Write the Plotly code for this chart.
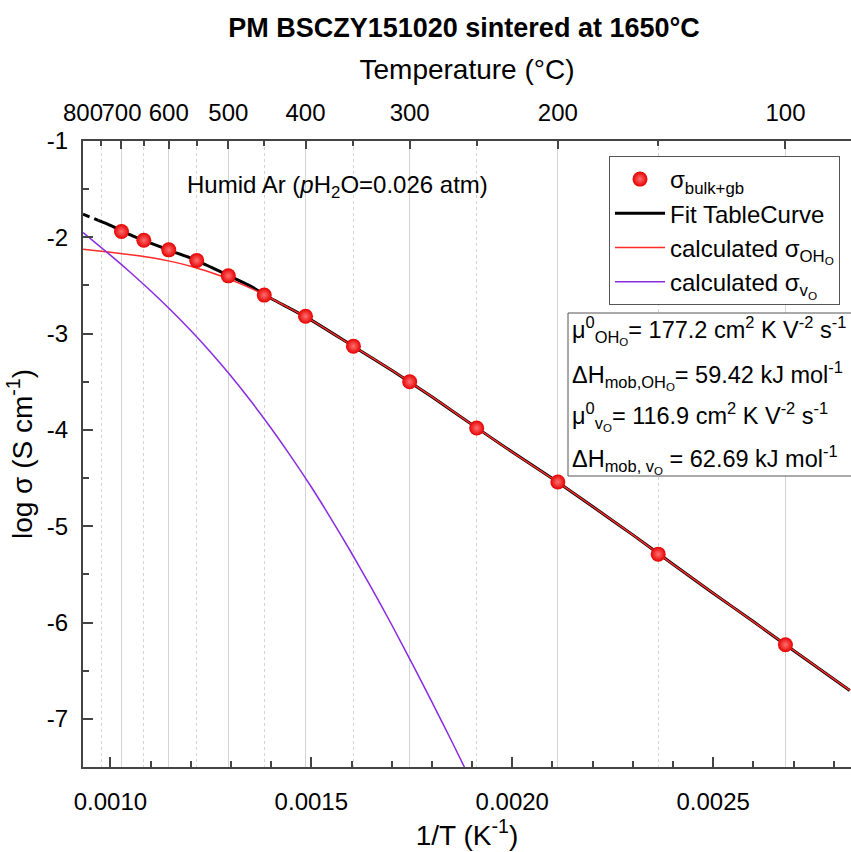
import plotly.graph_objects as go

# Measured total conductivity (bulk + grain boundary) vs. temperature
temps_C = [700, 650, 600, 550, 500, 450, 400, 350, 300, 250, 200, 150, 100]
log_sigma = [-1.94, -2.03, -2.13, -2.24, -2.40, -2.60, -2.82, -3.13, -3.50, -3.98, -4.54, -5.29, -6.23]

# TableCurve fit (dashed part = extrapolation beyond the measured range)
fit_extrap_x = [0.000932, 0.00097]
fit_extrap_y = [-1.76, -1.824]
fit_x = [0.00097, 0.00100, 0.00105, 0.00110, 0.00115, 0.00120, 0.00125, 0.00130, 0.00135,
         0.00140, 0.00145, 0.00150, 0.00160, 0.00170, 0.00180, 0.00190, 0.00200, 0.00210,
         0.00220, 0.00230, 0.00240, 0.00250, 0.00260, 0.00270, 0.00284]
fit_y = [-1.824, -1.875, -1.975, -2.06, -2.14, -2.215, -2.31, -2.41, -2.51,
         -2.635, -2.745, -2.86, -3.12, -3.38, -3.655, -3.945, -4.23, -4.505,
         -4.795, -5.09, -5.395, -5.695, -5.99, -6.29, -6.705]

# Calculated protonic (OH_O) conductivity
oh_x = [0.000932, 0.00100, 0.00105, 0.00110, 0.00115, 0.00120, 0.00125, 0.00130, 0.00135,
        0.00140, 0.00145, 0.00150, 0.00160, 0.00170, 0.00180, 0.00190, 0.00200, 0.00210,
        0.00220, 0.00230, 0.00240, 0.00250, 0.00260, 0.00270, 0.00284]
oh_y = [-2.125, -2.155, -2.18, -2.21, -2.25, -2.30, -2.365, -2.44, -2.53,
        -2.635, -2.745, -2.86, -3.12, -3.38, -3.655, -3.945, -4.23, -4.505,
        -4.795, -5.09, -5.395, -5.695, -5.99, -6.29, -6.705]

# Calculated oxygen-vacancy conductivity
vo_x = [0.000932, 0.00100, 0.00105, 0.00110, 0.00115, 0.00120, 0.00125, 0.00130, 0.00135,
        0.00140, 0.00145, 0.00150, 0.00155, 0.00160, 0.00165, 0.00170, 0.00175, 0.00180,
        0.00185, 0.00190]
vo_y = [-1.95, -2.185, -2.365, -2.555, -2.755, -2.968, -3.195, -3.44, -3.703,
        -3.983, -4.28, -4.593, -4.928, -5.278, -5.643, -6.023, -6.418, -6.823,
        -7.238, -7.663]

# Axis ticks
temp_major = [800, 700, 600, 500, 400, 300, 200, 100]
temp_minor = [750, 650, 550, 450, 350, 250, 150]
inv_ticks = [0.0010, 0.0015, 0.0020, 0.0025]
inv_ticktext = ["0.0010", "0.0015", "0.0020", "0.0025"]
y_ticks = [-1, -2, -3, -4, -5, -6, -7]
y_ticktext = ["-1", "-2", "-3", "-4", "-5", "-6", "-7"]

x_min = 1 / (800 + 273.15)
x_max = 0.002843
y_range = [-7.5, -1]

FONT = "Liberation Sans, Arial, sans-serif"
AXC = "#444444"

inv_T = [1 / (t + 273.15) for t in temps_C]

fig = go.Figure()

fig.add_trace(go.Scatter(
    x=fit_extrap_x, y=fit_extrap_y, mode="lines",
    line=dict(color="black", width=3, dash="7px,5px"),
    showlegend=False, hoverinfo="skip"))
fig.add_trace(go.Scatter(
    x=fit_x, y=fit_y, mode="lines", name="Fit TableCurve",
    line=dict(color="black", width=3, shape="spline", smoothing=0.6),
    legendrank=2))
fig.add_trace(go.Scatter(
    x=oh_x, y=oh_y, mode="lines",
    name="calculated σ<sub>OH<sub>O</sub></sub>",
    line=dict(color="#ff2a2a", width=1.5, shape="spline", smoothing=0.6),
    legendrank=3))
fig.add_trace(go.Scatter(
    x=vo_x, y=vo_y, mode="lines",
    name="calculated σ<sub>v<sub>O</sub></sub>",
    line=dict(color="#8a2be2", width=1.5, shape="spline", smoothing=0.6),
    legendrank=4))
fig.add_trace(go.Scatter(
    x=inv_T, y=log_sigma, mode="markers",
    name="σ<sub>bulk+gb</sub>",
    marker=dict(size=15, color="#e60000",
                gradient=dict(type="radial", color="#ff7070"),
                line=dict(width=0)),
    legendrank=1))
# Same points bound to the temperature axis (keeps the top axis alive)
fig.add_trace(go.Scatter(
    x=inv_T, y=log_sigma, mode="markers", xaxis="x2",
    marker=dict(size=1, opacity=0), showlegend=False, hoverinfo="skip"))

fig.update_layout(
    width=851, height=852,
    margin=dict(l=83, r=0, t=141, b=85),
    paper_bgcolor="white", plot_bgcolor="white",
    font=dict(family=FONT, color="black", size=24),
    title=dict(text="<b>PM BSCZY151020 sintered at 1650°C</b>",
               x=464 / 851, xref="container", xanchor="center",
               y=1 - 28 / 852, yref="container", yanchor="middle",
               font=dict(size=27, family=FONT, color="black")),
    showlegend=True,
    legend=dict(x=(609 - 83) / 768, y=(767 - 156) / 626,
                xanchor="left", yanchor="top",
                bordercolor="#555555", borderwidth=1, bgcolor="white",
                font=dict(size=24, family=FONT), itemwidth=50,
                tracegroupgap=0),
    xaxis=dict(
        range=[x_min, x_max], showgrid=False, zeroline=False,
        showline=True, linecolor=AXC, linewidth=2,
        tickmode="array", tickvals=inv_ticks, ticktext=inv_ticktext,
        ticks="inside", ticklen=10, tickwidth=1.5, tickcolor=AXC,
        tickfont=dict(size=24), ticklabelstandoff=12, tickangle=0,
        minor=dict(dtick=0.0001, tick0=0, ticks="inside", ticklen=6,
                   tickwidth=1.5, tickcolor=AXC, showgrid=False),
        title=dict(text="1/T (K<sup>-1</sup>)", font=dict(size=28), standoff=4),
    ),
    xaxis2=dict(
        range=[x_min, x_max], overlaying="x", side="top", anchor="y",
        zeroline=False, showline=True, linecolor=AXC, linewidth=2,
        tickmode="array",
        tickvals=[1 / (t + 273.15) for t in temp_major],
        ticktext=[str(t) for t in temp_major],
        ticks="inside", ticklen=8, tickwidth=1.5, tickcolor=AXC,
        tickfont=dict(size=24), ticklabelstandoff=8, tickangle=0,
        showgrid=True, gridcolor="#d4d4d4", gridwidth=1,
        minor=dict(tickvals=[1 / (t + 273.15) for t in temp_minor],
                   ticks="inside", ticklen=5, tickwidth=1.5, tickcolor=AXC,
                   showgrid=True, gridcolor="#d4d4d4", griddash="dot", gridwidth=1),
        title=dict(text="Temperature (°C)", font=dict(size=28), standoff=12),
    ),
    yaxis=dict(
        range=y_range, showgrid=False, zeroline=False,
        showline=True, linecolor=AXC, linewidth=2,
        tickmode="array", tickvals=y_ticks, ticktext=y_ticktext,
        ticks="inside", ticklen=10, tickwidth=1.5, tickcolor=AXC,
        tickfont=dict(size=24), ticklabelstandoff=8,
        minor=dict(dtick=0.5, tick0=0, ticks="inside", ticklen=6,
                   tickwidth=1.5, tickcolor=AXC, showgrid=False),
        title=dict(text="log σ (S cm<sup>-1</sup>)", font=dict(size=28), standoff=6),
    ),
)

# Gas atmosphere label
fig.add_annotation(
    text="Humid Ar (<i>p</i>H<sub>2</sub>O=0.026 atm)",
    xref="paper", yref="paper", x=(337 - 83) / 768, y=(767 - 186) / 626,
    xanchor="center", yanchor="middle", showarrow=False,
    font=dict(size=24, family=FONT, color="black"))

# Mobility parameters box
fig.add_shape(type="rect", xref="paper", yref="paper",
              x0=(568 - 83) / 768, x1=1.05,
              y0=(767 - 476) / 626, y1=(767 - 313) / 626,
              line=dict(color="#555555", width=1), fillcolor="white", layer="above")

param_lines = [
    "μ<sup>0</sup><sub>OH<sub>O</sub></sub>= 177.2 cm<sup>2</sup> K V<sup>-2</sup> s<sup>-1</sup>",
    "ΔH<sub>mob,OH<sub>O</sub></sub>= 59.42 kJ mol<sup>-1</sup>",
    "μ<sup>0</sup><sub>v<sub>O</sub></sub>= 116.9 cm<sup>2</sup> K V<sup>-2</sup> s<sup>-1</sup>",
    "ΔH<sub>mob, v<sub>O</sub></sub> = 62.69 kJ mol<sup>-1</sup>",
]
param_y = [330, 375, 416, 459]
for txt, py in zip(param_lines, param_y):
    fig.add_annotation(
        text=txt, xref="paper", yref="paper",
        x=(570 - 83) / 768, y=(767 - py) / 626,
        xanchor="left", yanchor="middle", showarrow=False, align="left",
        font=dict(size=23.5, family=FONT, color="black"))

fig.write_html("out.html")
